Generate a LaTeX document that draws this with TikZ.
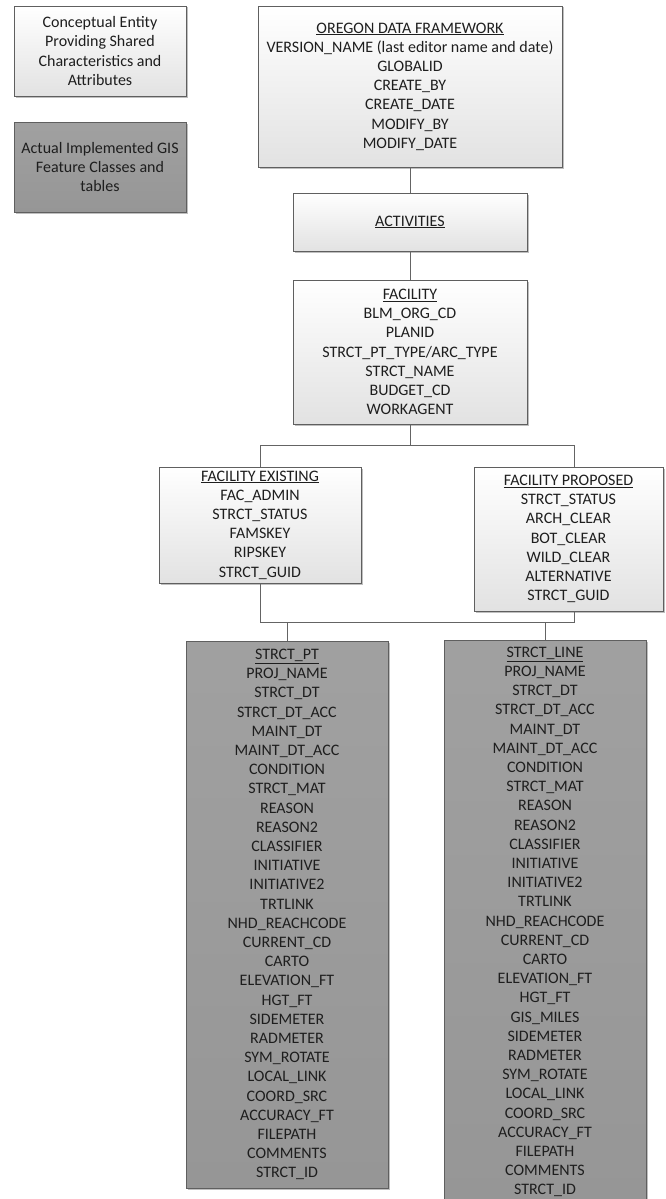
\documentclass[tikz,border=0pt]{standalone}
\usepackage{fontspec}
\setmainfont{Carlito}
\usepackage{tikz}
\usetikzlibrary{positioning, calc, shadows}
\usepackage{xcolor}
\definecolor{boxline}{RGB}{95,95,95}
\definecolor{boxtext}{RGB}{30,30,30}
\definecolor{lightfill}{RGB}{226,226,226}
\definecolor{darkfill}{RGB}{150,150,150}
\definecolor{linkgray}{RGB}{100,100,100}

\tikzset{
  entity/.style={draw=boxline, line width=0.8pt, top color=white, bottom color=lightfill, text=boxtext, align=center, inner sep=0pt, font=\fontsize{16}{19.2}\selectfont, drop shadow={shadow xshift=1.5pt, shadow yshift=-1.5pt, fill=black, opacity=0.25}},
  featclass/.style={entity, top color=darkfill!90!white, bottom color=darkfill},
  link/.style={draw=linkgray, line width=0.9pt},
}

\begin{document}
\begin{tikzpicture}[x=1pt, y=-1pt]
  \useasboundingbox (0,0) rectangle (665,1199);
  \fill[white] (0,0) rectangle (665,1199);
  \clip (0,0) rectangle (665,1199);

  \node[entity, minimum width=172pt, minimum height=90pt] (concept) at (100,51) {Conceptual Entity\\Providing Shared\\Characteristics and\\Attributes};
  \node[featclass, minimum width=172pt, minimum height=90pt] (implemented) at (100,167) {Actual Implemented GIS\\Feature Classes and\\tables};

  \node[entity, minimum width=304pt, minimum height=161pt] (odf) at (410,86.5) {\underline{OREGON DATA FRAMEWORK}\\VERSION\_NAME (last editor name and date)\\GLOBALID\\CREATE\_BY\\CREATE\_DATE\\MODIFY\_BY\\MODIFY\_DATE};
  \node[entity, minimum width=234pt, minimum height=58pt] (activities) at (410,222) {\underline{ACTIVITIES}};
  \node[entity, minimum width=234pt, minimum height=144pt] (facility) at (410,352) {\underline{FACILITY}\\BLM\_ORG\_CD\\PLANID\\STRCT\_PT\_TYPE/ARC\_TYPE\\STRCT\_NAME\\BUDGET\_CD\\WORKAGENT};

  \node[entity, minimum width=202pt, minimum height=116pt] (facexist) at (260,525) {\underline{FACILITY EXISTING}\\FAC\_ADMIN\\STRCT\_STATUS\\FAMSKEY\\RIPSKEY\\STRCT\_GUID};
  \node[entity, minimum width=189pt, minimum height=144pt] (facprop) at (568.5,539) {\underline{FACILITY PROPOSED}\\STRCT\_STATUS\\ARCH\_CLEAR\\BOT\_CLEAR\\WILD\_CLEAR\\ALTERNATIVE\\STRCT\_GUID};

  \node[featclass, minimum width=202pt, minimum height=547pt] (strctpt) at (287,914.5) {\underline{STRCT\_PT}\\PROJ\_NAME\\STRCT\_DT\\STRCT\_DT\_ACC\\MAINT\_DT\\MAINT\_DT\_ACC\\CONDITION\\STRCT\_MAT\\REASON\\REASON2\\CLASSIFIER\\INITIATIVE\\INITIATIVE2\\TRTLINK\\NHD\_REACHCODE\\CURRENT\_CD\\CARTO\\ELEVATION\_FT\\HGT\_FT\\SIDEMETER\\RADMETER\\SYM\_ROTATE\\LOCAL\_LINK\\COORD\_SRC\\ACCURACY\_FT\\FILEPATH\\COMMENTS\\STRCT\_ID};
  \node[featclass, minimum width=202pt, minimum height=564pt] (strctline) at (545,922) {\underline{STRCT\_LINE}\\PROJ\_NAME\\STRCT\_DT\\STRCT\_DT\_ACC\\MAINT\_DT\\MAINT\_DT\_ACC\\CONDITION\\STRCT\_MAT\\REASON\\REASON2\\CLASSIFIER\\INITIATIVE\\INITIATIVE2\\TRTLINK\\NHD\_REACHCODE\\CURRENT\_CD\\CARTO\\ELEVATION\_FT\\HGT\_FT\\GIS\_MILES\\SIDEMETER\\RADMETER\\SYM\_ROTATE\\LOCAL\_LINK\\COORD\_SRC\\ACCURACY\_FT\\FILEPATH\\COMMENTS\\STRCT\_ID};

  \coordinate (splitR) at (574,445);
  \coordinate (joinR) at (574,622);

  \draw[link] (odf.south) -- (activities.north);
  \draw[link] (activities.south) -- (facility.north);
  \draw[link] (facility.south) -- (facility.south |- splitR);
  \draw[link] (facexist.north) |- (splitR) -- (splitR |- facprop.north);
  \draw[link] (facexist.south) |- (joinR) -- (joinR |- facprop.south);
  \draw[link] (strctpt.north) -- (strctpt.north |- joinR);
  \draw[link] (strctline.north) -- (strctline.north |- joinR);
\end{tikzpicture}
\end{document}
